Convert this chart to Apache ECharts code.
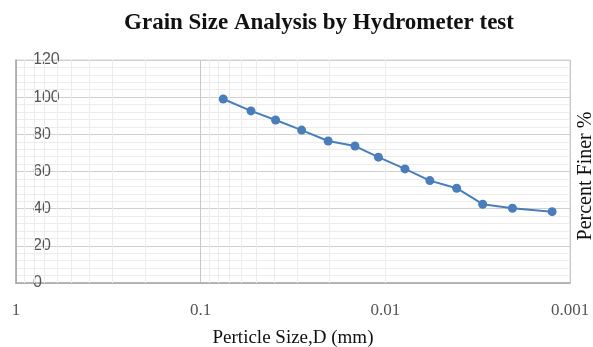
<!DOCTYPE html>
<html>
<head>
<meta charset="utf-8">
<script src="https://cdn.jsdelivr.net/npm/echarts@6/dist/echarts.min.js"></script>
<style>
  html, body { margin: 0; padding: 0; background: #fff; }
  #chart { width: 593px; height: 347px; }
</style>
</head>
<body>
<div id="chart"></div>
<script>
// particle size (mm) and percent finer
const sizes = [0.0755, 0.0534, 0.0393, 0.0284, 0.0204, 0.0146, 0.0109, 0.00783, 0.00574, 0.00411, 0.00297, 0.00205, 0.00125];
const finer = [99, 92.6, 87.7, 82.3, 76.4, 73.7, 67.7, 61.4, 55.1, 51, 42.4, 40.2, 38.4];
// log minor grid positions (2..9 in each decade)
const minorX = [0.9, 0.8, 0.7, 0.6, 0.5, 0.4, 0.3, 0.2,
  0.09, 0.08, 0.07, 0.06, 0.05, 0.04, 0.03, 0.02,
  0.009, 0.008, 0.007, 0.006, 0.005, 0.004, 0.003, 0.002];

const chart = echarts.init(document.getElementById("chart"));

const option = {
  animation: false,
  title: {
    text: "Grain Size Analysis by Hydrometer test",
    left: 314,
    textAlign: "center",
    top: 7,
    textStyle: {
      fontFamily: "Liberation Serif",
      fontWeight: "bold",
      fontSize: 23,
      color: "#111"
    }
  },
  // y axis title on the right side
  graphic: [
    {
      type: "text",
      x: 586,
      y: 176,
      rotation: Math.PI / 2,
      style: {
        text: "Percent Finer %",
        font: "20px 'Liberation Serif'",
        fill: "#111",
        textAlign: "center",
        textVerticalAlign: "middle"
      }
    }
  ],
  grid: {
    left: 16,
    right: 23,
    top: 60,
    bottom: 64,
    outerBoundsMode: "none",
    containLabel: false,
    show: true,
    borderColor: "#d4d4d4",
    borderWidth: 1
  },
  xAxis: {
    type: "log",
    logBase: 10,
    min: 0.001,
    max: 1,
    inverse: true,
    name: "Perticle Size,D (mm)",
    nameLocation: "middle",
    nameGap: 46,
    nameTextStyle: {
      fontFamily: "Liberation Serif",
      fontSize: 19,
      color: "#111"
    },
    axisLine: { lineStyle: { color: "#a6a6a6", width: 1.5 } },
    axisTick: { show: false },
    axisLabel: {
      margin: 19,
      fontFamily: "Liberation Serif",
      fontSize: 17,
      color: "#555"
    },
    splitLine: { show: true, lineStyle: { color: "#c8c8c8" } }
  },
  yAxis: {
    type: "value",
    min: 0,
    max: 120,
    interval: 20,
    axisLine: { show: true, lineStyle: { color: "#a6a6a6", width: 1.5 } },
    axisTick: { show: false },
    axisLabel: {
      inside: true,
      margin: 17,
      fontFamily: "Liberation Sans",
      fontSize: 16,
      color: "#555"
    },
    splitLine: { lineStyle: { color: "#cfcfcf" } },
    minorTick: { show: false, splitNumber: 5 },
    minorSplitLine: { show: true, lineStyle: { color: "#ececec" } }
  },
  series: [
    {
      type: "line",
      data: sizes.map((d, i) => [d, finer[i]]),
      symbol: "circle",
      symbolSize: 9,
      lineStyle: { color: "#4a7ebb", width: 2 },
      itemStyle: { color: "#4a7ebb" },
      z: 5,
      markLine: {
        silent: true,
        symbol: ["none", "none"],
        label: { show: false },
        lineStyle: { color: "#ececec", type: "solid", width: 1 },
        data: minorX.map((v) => ({ xAxis: v }))
      }
    }
  ]
};

chart.setOption(option);
</script>
</body>
</html>
